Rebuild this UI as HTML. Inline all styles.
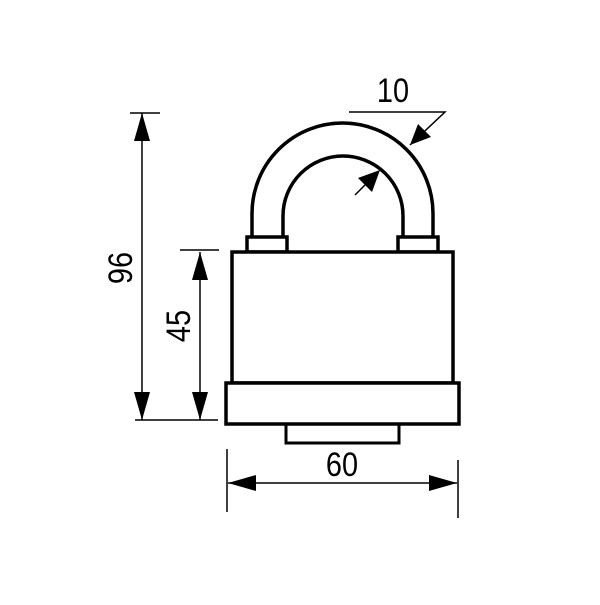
<!DOCTYPE html>
<html><head><meta charset="utf-8"><style>html,body{margin:0;padding:0;background:#fff}</style></head>
<body>
<svg width="600" height="600" viewBox="0 0 600 600" xmlns="http://www.w3.org/2000/svg">
<g fill="none" stroke="#000" stroke-width="3.5">
<path d="M252,238 L252,213.5 A90.5,90.5 0 0 1 433,213.5 L433,238"/>
<path d="M283,238 L283,216 A60,60 0 0 1 403,216 L403,238"/>
<rect x="247" y="237" width="40" height="15" fill="#fff"/>
<rect x="398" y="237" width="40" height="15" fill="#fff"/>
<rect x="232" y="252" width="221" height="131" fill="#fff"/>
<rect x="286" y="424" width="113" height="19" stroke-width="3"/>
<rect x="226" y="383" width="233" height="41" fill="#fff"/>
</g>
<g stroke="#000" stroke-width="1.5" fill="none">
<line x1="142" y1="113" x2="142" y2="420"/>
<line x1="130" y1="113" x2="160" y2="113"/>
<line x1="135" y1="420" x2="218" y2="420"/>
<line x1="200" y1="252" x2="200" y2="420"/>
<line x1="180" y1="250" x2="219" y2="250"/>
<line x1="227" y1="449" x2="227" y2="512"/>
<line x1="458" y1="460" x2="458" y2="518"/>
<line x1="228" y1="483" x2="457" y2="483"/>
<polyline points="349,112 445,112 410,145"/>
<line x1="355" y1="195" x2="378" y2="172"/>
</g>
<g fill="#000">
<polygon points="142,113 134,141 150,141"/>
<polygon points="142,420 134,392 150,392"/>
<polygon points="200,252 192,280 208,280"/>
<polygon points="200,420 192,392 208,392"/>
<polygon points="228,483 256,475 256,491"/>
<polygon points="457,483 429,475 429,491"/>
<polygon points="410,145 418,124 431,137"/>
<polygon points="380,170 372,192 358,178"/>
</g>
<g font-family="Liberation Sans, sans-serif" font-size="34" fill="#000" text-anchor="middle">
<text transform="translate(393,102) scale(0.85,1)">10</text>
<text transform="translate(342,476) scale(0.85,1)">60</text>
<text transform="translate(132,268) rotate(-90) scale(0.85,1)">96</text>
<text transform="translate(190,326) rotate(-90) scale(0.85,1)">45</text>
</g>
</svg>
</body></html>
